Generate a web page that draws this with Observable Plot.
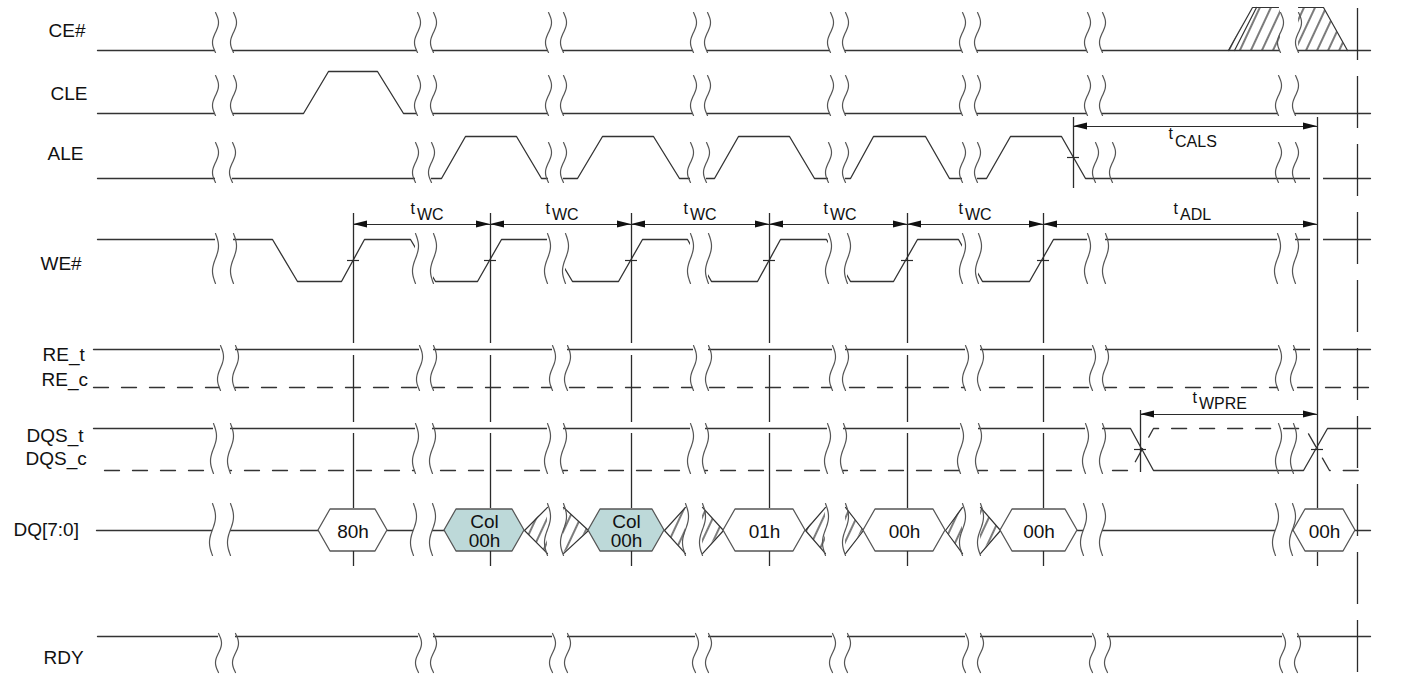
<!DOCTYPE html>
<html><head><meta charset="utf-8">
<script src="https://cdn.jsdelivr.net/npm/d3@7"></script>
<script src="https://cdn.jsdelivr.net/npm/@observablehq/plot@0.6"></script>
<style>body{margin:0;background:#fff}#chart{width:1404px;height:675px}</style>
</head><body><div id="chart"></div>
<script>
// ================= DATA (time t, logic level 0 = low, 1 = high, 0.5 = bus mid) =================
const signalNames = ["CE#","CLE","ALE","WE#","RE_t","RE_c","DQS_t","DQS_c","DQ[7:0]","RDY"];

const ceWave   = [[97,0],[1370,0]];
const cleWave  = [[97,0],[303,0],[328,1],[377,1],[403,0],[1370,0]];
const aleWave  = [[97,0],[441,0],[465,1],[516,1],[541,0],[577,0],[602,1],[653,1],[679,0],[714,0],[738,1],[789,1],[814,0],
                  [850,0],[873,1],[925,1],[949,0],[986,0],[1010,1],[1061,1],[1085,0],[1370,0]];
const weWave   = [[97,1],[272,1],[297,0],[341,0],[364,1],[410,1],[435,0],[477,0],[501,1],[547,1],[572,0],[618,0],[642,1],
                  [687,1],[711,0],[757,0],[780,1],[826,1],[850,0],[893,0],[917,1],[958,1],[982,0],[1029,0],[1053,1],[1370,1]];
const reTWave  = [[93,1],[1370,1]];
const reCWave  = [[93,0],[1370,0]];
const dqsTWave = [[93,1],[1130,1],[1153,0],[1303,0],[1327,1],[1370,1]];
const dqsCWave = [[104,0],[1130,0],[1153,1],[1305,1],[1329,0],[1370,0]];
const rdyWave  = [[97,0],[1370,0]];

// DQ bus
const dqLabels = ["80h","Col\n00h","Col\n00h","01h","00h","00h","00h"];
const dqStart  = [318,444,588,723,863,1000,1293];
const dqEnd    = [387,524,664,805,945,1077,1355];
const dqColumn = [false,true,true,false,false,false,false];
const dqIdle   = [[96,318],[387,444],[1077,1293],[1355,1370]];
// invalid (hatched) transitions: [end of valid, break left, break right, start of next valid]
const dqInvalid = [[524,547,563,588],[664,685,702,723],[805,825,845,863],[945,962,980,1000]];
// CE# don't-care transition regions: [t, topLevel, bottomLevel]
const ceDontCareA = [[1228,0,0],[1252,1,0],[1280,1,0]];
const ceDontCareB = [[1298,1,0],[1323,1,0],[1347,0,0]];

// time-axis breaks per lane [left, right]
const breakTimes = {
  "CE#": [[215,233],[417,433],[548,563],[693,707],[830,845],[962,977],[1087,1102],[1280,1298]],
  "CLE": [[215,233],[417,433],[548,563],[693,707],[830,845],[962,977],[1087,1102],[1278,1295]],
  "ALE": [[215,232],[415,431],[548,563],[690,706],[828,845],[962,977],[1095,1112],[1278,1295]],
  "WE#": [[215,233],[415,433],[547,565],[690,708],[828,847],[962,978],[1087,1105],[1277,1295]],
  "RE":  [[220,235],[419,433],[552,567],[693,708],[832,845],[965,980],[1092,1105],[1278,1293]],
  "DQS": [[213,230],[415,432],[547,563],[690,705],[827,843],[960,978],[1085,1102],[1278,1293]],
  "DQ":  [[212,230],[413,432],[547,563],[685,702],[825,845],[962,980],[1083,1102],[1275,1292]],
  "RDY": [[218,235],[418,433],[552,567],[695,708],[832,847],[965,980],[1092,1107],[1282,1297]]
};
const overlayBreaks = {"ALE":[1095,1278], "DQS":[1278]};

// WE# rising edges and timing parameters
const weEdges = [353,490,631,769,907,1043];
const timingNames = ["WC","WC","WC","WC","WC","ADL","CALS","WPRE"];
const timingStart = [353,490,631,769,907,1043,1073,1140];
const timingEnd   = [490,631,769,907,1043,1317,1317,1317];

// ================= LAYOUT =================
const lanes = {
  "CE#": {base:50,  amp:43, top:12,  bot:52},
  "CLE": {base:113, amp:42, top:75,  bot:115},
  "ALE": {base:178, amp:42, top:142, bot:182},
  "WE#": {base:281, amp:42, top:233, bot:283},
  "RE":  {base:387, amp:38, top:345, bot:390},
  "DQS": {base:470, amp:42, top:423, bot:473},
  "DQ":  {base:551, amp:42, top:503, bot:555},
  "RDY": {base:636, amp:0,  top:633, bot:672}
};
const Y = (lane, lvl) => lanes[lane].base - lvl * lanes[lane].amp;
const labelPos = [[48,36],[50,99],[47,159],[40,269],[42,360],[41,385],[26,441],[25,464],[13,535],[43,663]];
const timingLabelX = [410,545,683,823,958,1173,1168,1192];
const arrowY = {WC:224, ADL:224, CALS:126, WPRE:414};
const labelBase = {WC:213, ADL:213, CALS:138, WPRE:402};
const subDrop = {WC:6, ADL:6, CALS:8, WPRE:6};

const INK = "#2b2b2b";
const WAVE = "#333";

// ================= BUILD ROWS =================
const waves = [
  {lane:"CE#", pts:ceWave}, {lane:"CLE", pts:cleWave}, {lane:"ALE", pts:aleWave}, {lane:"WE#", pts:weWave},
  {lane:"RE", pts:reTWave}, {lane:"RE", pts:reCWave, dash:true},
  {lane:"DQS", pts:dqsTWave}, {lane:"DQS", pts:dqsCWave, dash:true},
  {lane:"RDY", pts:rdyWave},
  ...dqIdle.map(([a,b]) => ({lane:"DQ", pts:[[a,0.5],[b,0.5]]}))
];
const waveRows = waves.flatMap((w,i) => w.pts.map(([t,l]) => ({id:i, t, y:Y(w.lane,l), dash:!!w.dash})));

const whiteRects = [];
const breakRows = [];
let cid = 0;
for (const [lane, list] of Object.entries(breakTimes)) {
  const L = lanes[lane];
  for (const [a,b] of list) {
    const overlay = (overlayBreaks[lane] || []).includes(a);
    if (!overlay) whiteRects.push({x1:a, x2:b, y1:L.top - 2, y2:L.bot + 2});
    for (const t of [a,b]) {
      const n = 18;
      for (let i = 0; i <= n; i++) breakRows.push({id:cid, t: t + 3*Math.sin(2*Math.PI*i/n), y: L.top + (L.bot - L.top)*i/n});
      cid++;
    }
  }
}
// gaps in lines around the t=1317 reference line
for (const [lane,lvl] of [["ALE",0],["WE#",1],["RE",1]]) whiteRects.push({x1:1310, x2:1323, y1:Y(lane,lvl)-4, y2:Y(lane,lvl)+4});

// hatched (invalid / don't care) areas and their edges
const hatchRows = [];
const hatchEdges = [];
ceDontCareA.forEach(([t,a,b]) => hatchRows.push({id:"ceA", t, y1:Y("CE#",a), y2:Y("CE#",b)}));
ceDontCareB.forEach(([t,a,b]) => hatchRows.push({id:"ceB", t, y1:Y("CE#",a), y2:Y("CE#",b)}));
hatchEdges.push(...[[1228,0],[1252,1],[1278,1]].map(([t,l]) => ({id:"e1", t, y:Y("CE#",l)})));
hatchEdges.push(...[[1234,0],[1256,1]].map(([t,l]) => ({id:"e2", t, y:Y("CE#",l)})));
hatchEdges.push(...[[1298,1],[1323,1],[1347,0]].map(([t,l]) => ({id:"e3", t, y:Y("CE#",l)})));
dqInvalid.forEach(([r,bl,br,l], i) => {
  hatchRows.push({id:"dA"+i, t:r, y1:Y("DQ",0.5), y2:Y("DQ",0.5)}, {id:"dA"+i, t:bl, y1:Y("DQ",1.05), y2:Y("DQ",-0.05)});
  hatchRows.push({id:"dB"+i, t:br, y1:Y("DQ",1.05), y2:Y("DQ",-0.05)}, {id:"dB"+i, t:l, y1:Y("DQ",0.5), y2:Y("DQ",0.5)});
  hatchEdges.push(...[[bl,1.05],[r,0.5],[bl,-0.05]].map(([t,v]) => ({id:"dx"+i, t, y:Y("DQ",v)})));
  hatchEdges.push(...[[br,1.05],[l,0.5],[br,-0.05]].map(([t,v]) => ({id:"dy"+i, t, y:Y("DQ",v)})));
});

// hexagons
const CH = 12;
const hexRows = dqStart.flatMap((a,i) => {
  const b = dqEnd[i], fill = dqColumn[i] ? "#bdd9d9" : "#ffffff";
  return [[a,0.5,0.5],[a+CH,1,0],[b-CH,1,0],[b,0.5,0.5]].map(([t,u,d]) => ({id:i, t, y1:Y("DQ",u), y2:Y("DQ",d), fill}));
});
const hexText = dqLabels.map((s,i) => ({t:(dqStart[i]+dqEnd[i])/2, s}));

// reference verticals
const vRows = [];
weEdges.forEach(t => [[213,343],[355,422],[433,508],[551,566]].forEach(([a,b]) => vRows.push({t, y1:a, y2:b})));
[[117,508],[552,566]].forEach(([a,b]) => vRows.push({t:1317, y1:a, y2:b}));
vRows.push({t:1073, y1:117, y2:188}, {t:1140, y1:410, y2:472});

const ticks = [
  ...weEdges.map(t => ({t, y:Y("WE#",0.5)})),
  {t:1073, y:Y("ALE",0.5)}, {t:1140, y:Y("DQS",0.5)}, {t:1317, y:Y("DQS",0.5)}
];

// timing arrows
const arrowLines = timingNames.map((n,i) => ({x1:timingStart[i], x2:timingEnd[i], y:arrowY[n]}));
const HL = 14, HW = 3.5;
const headRows = timingNames.flatMap((n,i) => {
  const y = arrowY[n], a = timingStart[i], b = timingEnd[i];
  return [
    {id:"L"+i, t:a, y1:y, y2:y}, {id:"L"+i, t:a+HL, y1:y-HW, y2:y+HW},
    {id:"R"+i, t:b-HL, y1:y-HW, y2:y+HW}, {id:"R"+i, t:b, y1:y, y2:y}
  ];
});
const tLabels = timingNames.map((n,i) => ({x:timingLabelX[i], y:labelBase[n], s:"t"}));
const subLabels = timingNames.map((n,i) => ({x:timingLabelX[i]+6.5, y:labelBase[n]+subDrop[n], s:n}));

const sigLabels = signalNames.map((s,i) => ({x:labelPos[i][0], y:labelPos[i][1], s}));

// ================= PLOT =================
const font = "'Liberation Sans', Arial, Helvetica, sans-serif";
const svg = Plot.plot({
  width:1404, height:675, margin:0,
  x:{domain:[0,1404], range:[0,1404], axis:null},
  y:{domain:[0,675], range:[0,675], axis:null},
  color:{type:"identity"},
  style:{background:"#fff", fontFamily:font},
  marks:[
    Plot.line(waveRows.filter(d => !d.dash), {x:"t", y:"y", z:"id", stroke:WAVE, strokeWidth:1.3}),
    Plot.line(waveRows.filter(d => d.dash), {x:"t", y:"y", z:"id", stroke:WAVE, strokeWidth:1.3, strokeDasharray:"15,13"}),
    Plot.rect(whiteRects, {x1:"x1", x2:"x2", y1:"y1", y2:"y2", fill:"#fff"}),
    Plot.area(hatchRows, {x1:"t", y1:"y1", y2:"y2", z:"id", fill:"url(#hatch)"}),
    Plot.line(hatchEdges, {x:"t", y:"y", z:"id", stroke:WAVE, strokeWidth:1.2}),
    Plot.area(hexRows, {x1:"t", y1:"y1", y2:"y2", z:"id", fill:"fill", stroke:"#555", strokeWidth:1.3}),
    Plot.line(breakRows, {x:"t", y:"y", z:"id", stroke:"#555", strokeWidth:1.2, curve:"natural"}),
    Plot.ruleX(vRows, {x:"t", y1:"y1", y2:"y2", stroke:INK, strokeWidth:1.3}),
    Plot.ruleX([1357], {y1:8, y2:675, stroke:INK, strokeWidth:1.3, strokeDasharray:"52,16"}),
    Plot.ruleY(ticks, {y:"y", x1:d => d.t-6, x2:d => d.t+6, stroke:INK, strokeWidth:1.2}),
    Plot.ruleY(arrowLines, {y:"y", x1:"x1", x2:"x2", stroke:INK, strokeWidth:1.2}),
    Plot.area(headRows, {x1:"t", y1:"y1", y2:"y2", z:"id", fill:"#111"}),
    Plot.text(hexText, {x:"t", y:531, text:"s", fontSize:19, fill:"#111", lineHeight:1}),
    Plot.text(sigLabels, {x:"x", y:"y", text:"s", textAnchor:"start", lineAnchor:"bottom", fontSize:19, fill:"#111"}),
    Plot.text(tLabels, {x:"x", y:"y", text:"s", textAnchor:"start", lineAnchor:"bottom", fontSize:16, fill:"#111"}),
    Plot.text(subLabels, {x:"x", y:"y", text:"s", textAnchor:"start", lineAnchor:"bottom", fontSize:16, fill:"#111"})
  ]
});

// hatch pattern definition
const NS = "http://www.w3.org/2000/svg";
const defs = document.createElementNS(NS, "defs");
const pat = document.createElementNS(NS, "pattern");
pat.setAttribute("id", "hatch");
pat.setAttribute("patternUnits", "userSpaceOnUse");
pat.setAttribute("width", "10");
pat.setAttribute("height", "10");
pat.setAttribute("patternTransform", "rotate(25)");
const ln = document.createElementNS(NS, "line");
ln.setAttribute("x1", "5"); ln.setAttribute("y1", "-1"); ln.setAttribute("x2", "5"); ln.setAttribute("y2", "11");
ln.setAttribute("stroke", "#222"); ln.setAttribute("stroke-width", "1.2");
pat.appendChild(ln);
defs.appendChild(pat);
svg.insertBefore(defs, svg.firstChild);

document.getElementById("chart").appendChild(svg);
</script>
</body></html>
